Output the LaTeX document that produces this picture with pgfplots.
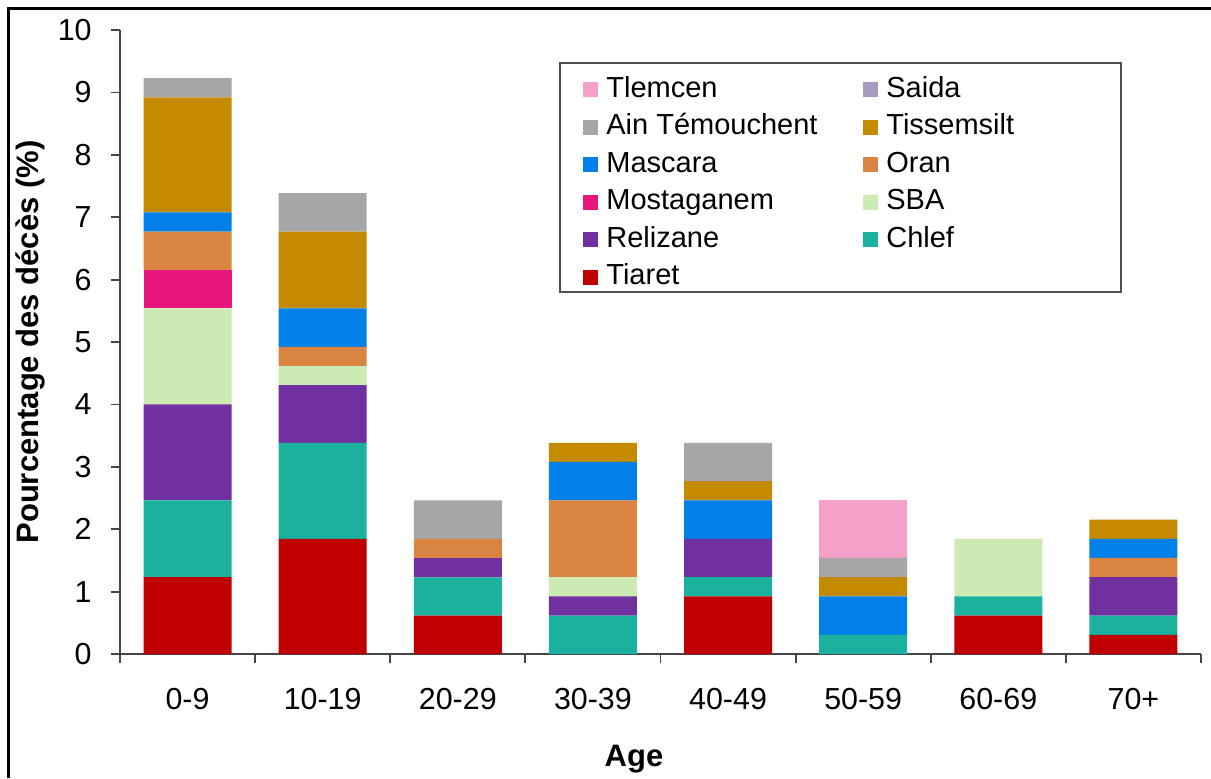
\documentclass[border=0pt]{standalone}
\usepackage{fontspec}
\setmainfont{Liberation Sans}
\usepackage{pgfplots}
\usepackage{pgfplotstable}
\pgfplotsset{compat=1.18}

\definecolor{cTiaret}{RGB}{192,0,0}
\definecolor{cChlef}{RGB}{26,178,158}
\definecolor{cRelizane}{RGB}{112,48,160}
\definecolor{cSBA}{RGB}{204,235,178}
\definecolor{cMostaganem}{RGB}{232,22,122}
\definecolor{cOran}{RGB}{217,132,64}
\definecolor{cMascara}{RGB}{0,128,232}
\definecolor{cTissemsilt}{RGB}{196,138,0}
\definecolor{cAinTem}{RGB}{166,166,166}
\definecolor{cSaida}{RGB}{169,155,192}
\definecolor{cTlemcen}{RGB}{245,160,200}
\definecolor{axisgray}{RGB}{70,70,70}
\definecolor{legendgray}{RGB}{80,80,80}

% Percentage of deaths per age group, by wilaya
\pgfplotstableread{
age Tiaret Chlef Relizane SBA Mostaganem Oran Mascara Tissemsilt AinTemouchent Saida Tlemcen
0 1.231 1.231 1.538 1.538 0.615 0.615 0.308 1.846 0.308 0 0
1 1.846 1.538 0.923 0.308 0     0.308 0.615 1.231 0.615 0 0
2 0.615 0.615 0.308 0     0     0.308 0     0     0.615 0 0
3 0     0.615 0.308 0.308 0     1.231 0.615 0.308 0     0 0
4 0.923 0.308 0.615 0     0     0     0.615 0.308 0.615 0 0
5 0     0.308 0     0     0     0     0.615 0.308 0.308 0 0.923
6 0.615 0.308 0     0.923 0     0     0     0     0     0 0
7 0.308 0.308 0.615 0     0     0.308 0.308 0.308 0     0 0
}\deces

\newcommand{\fs}{\fontsize{14.5}{17.4}\selectfont}
\newcommand{\ft}{\fontsize{15.2}{18}\selectfont}

\begin{document}
\begin{tikzpicture}
\useasboundingbox (-60pt,-62pt) rectangle (545.5pt,327pt);
\begin{axis}[
  at={(0pt,0pt)}, anchor=south west,
  scale only axis, width=540.5pt, height=312pt,
  ybar stacked, bar width=44pt,
  xmin=-0.5, xmax=7.5, ymin=0, ymax=10,
  clip=false,
  axis lines*=left,
  axis line style={-, draw=axisgray, line width=0.9pt},
  ytick={0,...,10},
  xtick={-0.5,0.5,...,7.5},
  x tick label as interval,
  xticklabels={0-9,10-19,20-29,30-39,40-49,50-59,60-69,70+},
  tick align=outside,
  major tick length=4.5pt,
  tick style={draw=axisgray, line width=0.9pt},
  tick label style={font=\ft},
  /pgf/number format/assume math mode=true,
  yticklabel style={inner sep=0pt, anchor=east, xshift=-9.5pt},
  xticklabel style={inner sep=0pt, anchor=north, yshift=-12.5pt},
  xlabel={Age},
  ylabel={Pourcentage des décès (\%)},
  label style={font=\bfseries\fontsize{15.5}{18}\selectfont},
  xlabel style={at={(axis description cs:0.4755,0)}, anchor=north, inner sep=0pt, yshift=-45.5pt},
  ylabel style={at={(axis description cs:-0.0685,0.5)}, anchor=south, inner sep=0pt},
  legend columns=2,
  reverse legend,
  legend cell align=left,
  legend style={draw=none, fill=none, at={(0.4283,0.9263)}, anchor=north west,
    inner sep=0pt, row sep=5.25pt, font=\fs,
    nodes={inner sep=0pt, text height=10.5pt, text depth=3pt},
    /tikz/every odd column/.append style={column sep=4pt},
    /tikz/every even column/.append style={column sep=22.9pt}},
  legend image code/.code={\fill[#1] (0pt,-3.75pt) rectangle (7.5pt,3.75pt);},
]
\addplot[fill=cTiaret, draw=none] table[x=age, y=Tiaret]{\deces};
\addplot[fill=cChlef, draw=none] table[x=age, y=Chlef]{\deces};
\addplot[fill=cRelizane, draw=none] table[x=age, y=Relizane]{\deces};
\addplot[fill=cSBA, draw=none] table[x=age, y=SBA]{\deces};
\addplot[fill=cMostaganem, draw=none] table[x=age, y=Mostaganem]{\deces};
\addplot[fill=cOran, draw=none] table[x=age, y=Oran]{\deces};
\addplot[fill=cMascara, draw=none] table[x=age, y=Mascara]{\deces};
\addplot[fill=cTissemsilt, draw=none] table[x=age, y=Tissemsilt]{\deces};
\addplot[fill=cAinTem, draw=none] table[x=age, y=AinTemouchent]{\deces};
\addplot[fill=cSaida, draw=none] table[x=age, y=Saida]{\deces};
\addplot[fill=cTlemcen, draw=none] table[x=age, y=Tlemcen]{\deces};
\legend{Tiaret, Chlef, Relizane, SBA, Mostaganem, Oran, Mascara, Tissemsilt, Ain Témouchent, Saida, Tlemcen}
% legend frame
\draw[draw=legendgray, line width=0.75pt] (rel axis cs:0.407,0.9471) rectangle (rel axis cs:0.926,0.5801);
\end{axis}
% outer frame (top and left edges)
\draw[line width=1.5pt, line join=miter] (-55.6pt,-62pt) -- (-55.6pt,322.6pt) -- (545.5pt,322.6pt);
\end{tikzpicture}
\end{document}
